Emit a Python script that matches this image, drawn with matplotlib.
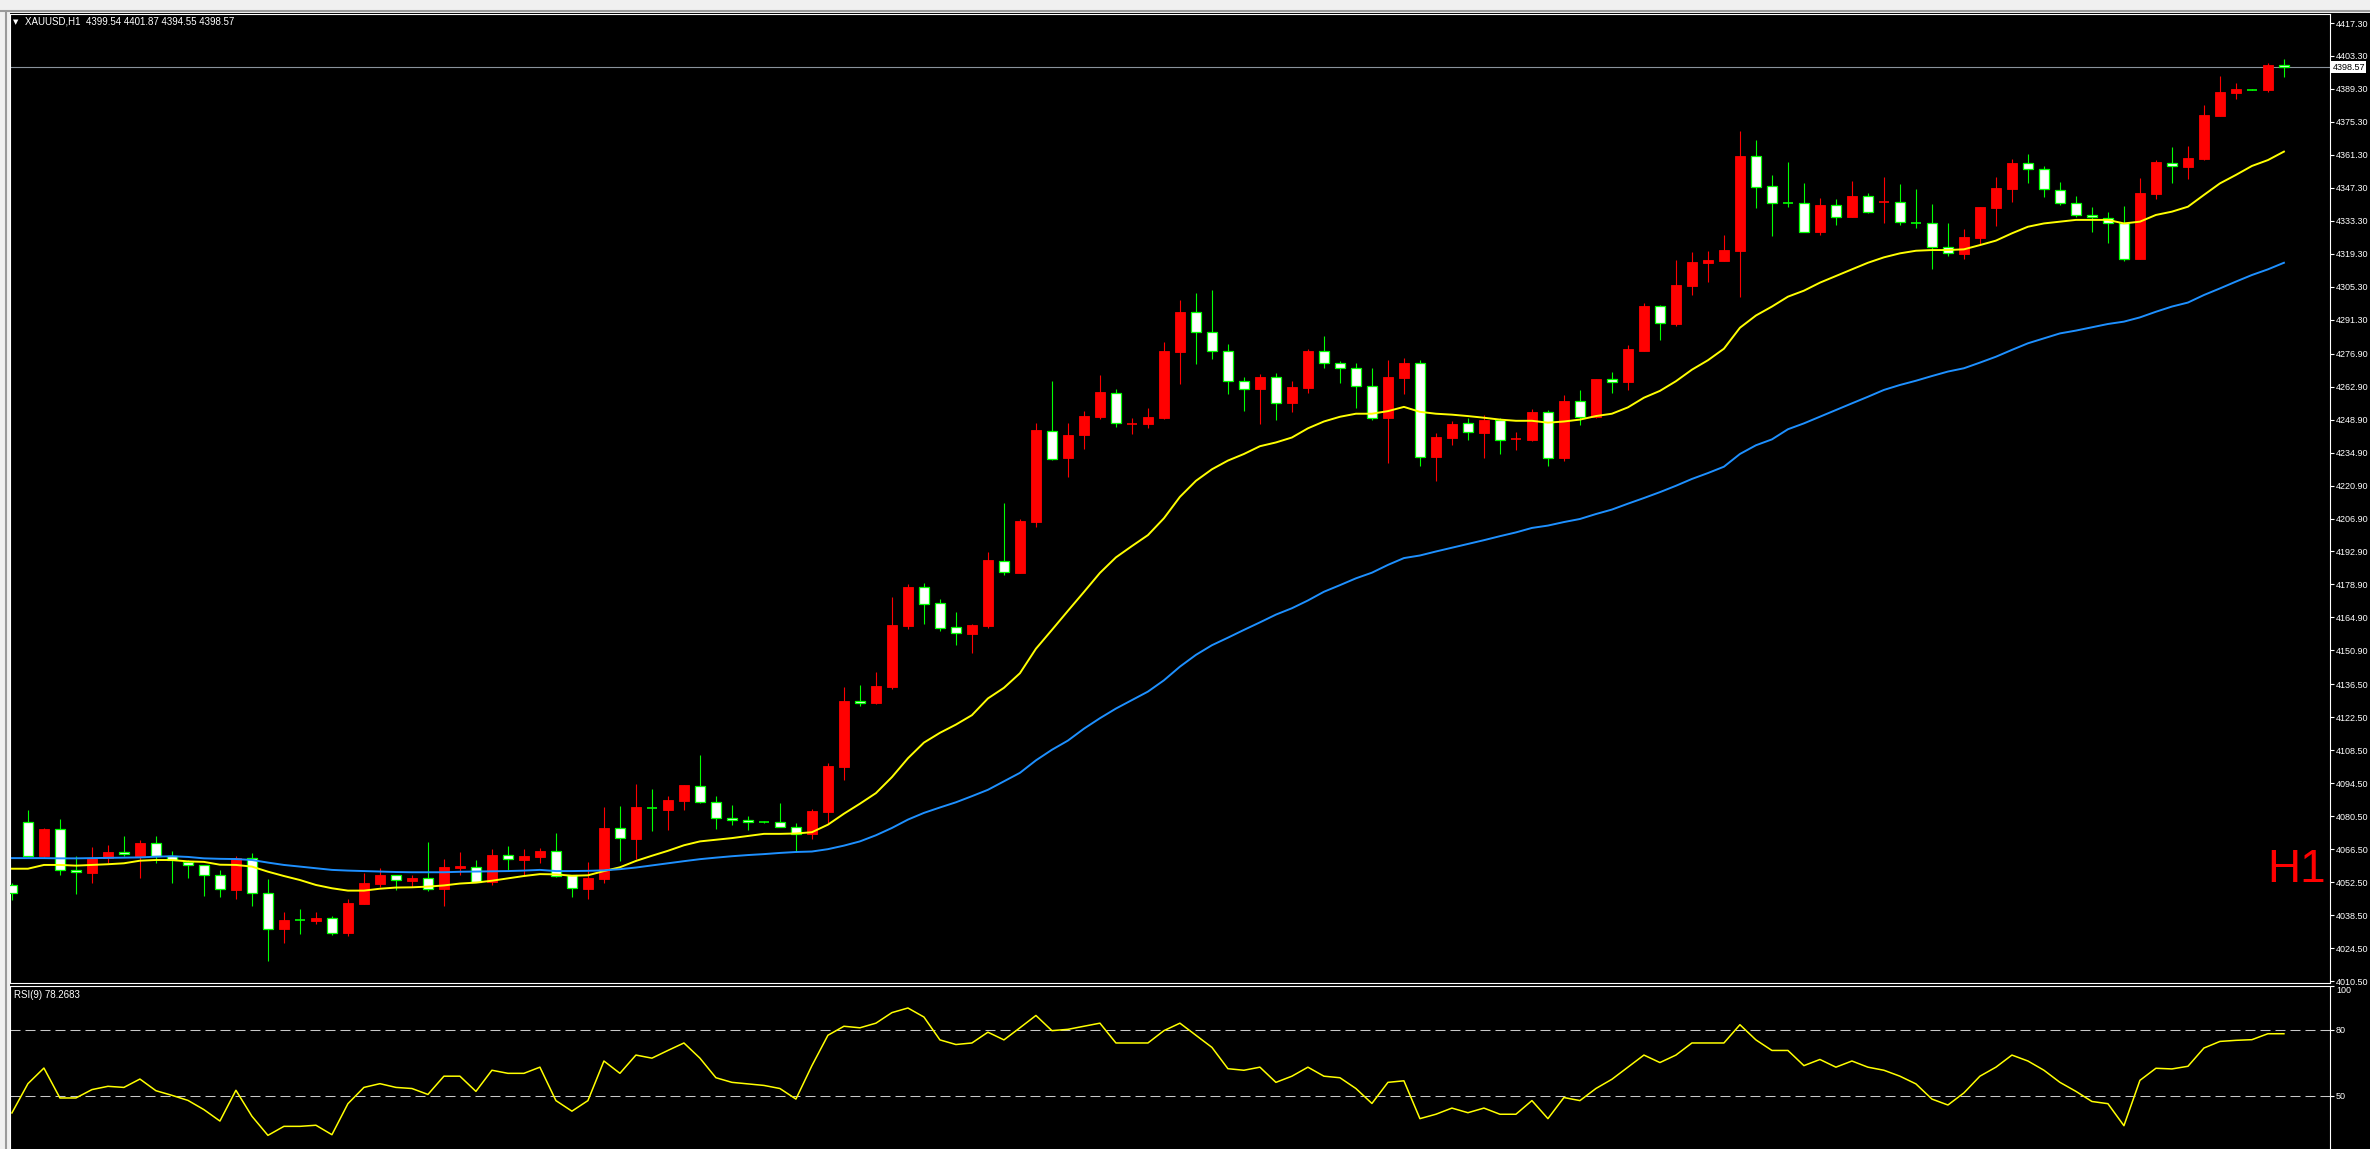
import numpy as np
import matplotlib
matplotlib.use("Agg")
import matplotlib.pyplot as plt
from matplotlib.patches import Rectangle
from matplotlib.lines import Line2D
from matplotlib.transforms import blended_transform_factory

# XAUUSD H1 candles (oldest first)
opens = [4051.3, 4077.9, 4063.7, 4074.9, 4057.6, 4056.5, 4062.6, 4065.2, 4063.7, 4069.0,
         4063.6, 4061.2, 4059.6, 4055.4, 4049.3, 4062.6, 4047.75, 4032.5, 4036.8, 4036.1,
         4037.1, 4030.8, 4043.4, 4051.9, 4055.4, 4053.1, 4054.1, 4049.4, 4058.65, 4058.8,
         4052.7, 4063.9, 4062.05, 4063.2, 4065.7, 4055.4, 4049.7, 4054.0, 4075.4, 4071.0,
         4084.2, 4083.2, 4087.1, 4093.5, 4086.4, 4079.9, 4078.9, 4078.1, 4078.0, 4075.8,
         4073.0, 4082.4, 4101.4, 4129.4, 4128.4, 4135.2, 4161.25, 4177.9, 4170.9, 4160.7,
         4157.9, 4161.25, 4188.95, 4183.8, 4205.4, 4244.2, 4232.5, 4242.2, 4250.1, 4260.4,
         4246.6, 4246.85, 4249.5, 4277.8, 4294.4, 4286.3, 4278.2, 4265.5, 4261.9, 4266.8,
         4255.8, 4262.4, 4277.85, 4272.8, 4270.7, 4263.1, 4249.75, 4266.5, 4272.8, 4233.2,
         4241.3, 4247.3, 4243.4, 4248.8, 4240.2, 4240.3, 4252.0, 4232.7, 4256.6, 4250.2,
         4266.0, 4264.7, 4278.2, 4297.2, 4289.6, 4305.8, 4315.6, 4316.4, 4320.4, 4360.7,
         4347.95, 4341.1, 4340.7, 4328.7, 4339.9, 4335.1, 4343.7, 4340.8, 4341.2, 4332.6,
         4332.2, 4322.1, 4319.4, 4326.2, 4338.9, 4346.8, 4357.7, 4355.2, 4346.3, 4340.7,
         4335.6, 4334.65, 4332.5, 4317.25, 4344.8, 4358.0, 4356.3, 4359.7, 4377.95, 4387.7,
         4389.2, 4388.9, 4399.54]
highs = [4052.3, 4083.1, 4075.5, 4079.2, 4063.6, 4067.3, 4068.3, 4072.1, 4070.4, 4072.1,
         4065.7, 4061.9, 4059.9, 4057.7, 4063.6, 4064.7, 4053.8, 4039.7, 4041.1, 4039.7,
         4038.1, 4045.3, 4056.2, 4058.5, 4055.6, 4055.4, 4069.5, 4062.3, 4065.3, 4061.9,
         4066.6, 4067.85, 4066.6, 4067.0, 4073.4, 4055.5, 4061.1, 4084.4, 4084.9, 4094.2,
         4092.1, 4089.05, 4093.8, 4106.6, 4089.05, 4085.1, 4080.5, 4078.4, 4086.2, 4077.4,
         4083.7, 4103.0, 4135.2, 4136.4, 4141.8, 4173.4, 4178.9, 4179.5, 4172.7, 4167.1,
         4161.9, 4192.7, 4213.6, 4206.6, 4247.6, 4265.1, 4247.6, 4252.6, 4267.9, 4261.9,
         4249.5, 4253.8, 4281.7, 4299.9, 4302.7, 4303.9, 4280.95, 4266.8, 4268.1, 4268.8,
         4265.35, 4279.0, 4284.4, 4273.6, 4273.1, 4270.9, 4274.1, 4275.1, 4274.1, 4243.25,
         4248.1, 4249.75, 4251.05, 4249.75, 4243.6, 4253.3, 4253.0, 4259.5, 4261.4, 4266.3,
         4269.1, 4280.6, 4298.5, 4297.5, 4316.7, 4319.9, 4320.4, 4327.4, 4371.4, 4367.7,
         4352.8, 4358.3, 4349.2, 4342.9, 4342.4, 4350.2, 4345.0, 4352.1, 4348.9, 4346.8,
         4340.5, 4332.5, 4329.9, 4339.3, 4352.1, 4359.6, 4361.7, 4356.6, 4349.8, 4343.85,
         4339.0, 4336.9, 4339.6, 4351.35, 4359.1, 4364.5, 4365.1, 4382.5, 4394.8, 4392.0,
         4389.4, 4400.5, 4401.87]
lows = [4044.9, 4063.0, 4063.0, 4055.5, 4047.5, 4052.3, 4060.8, 4063.6, 4054.4, 4060.8,
        4052.3, 4054.4, 4046.8, 4046.3, 4045.5, 4042.5, 4019.2, 4026.8, 4030.6, 4034.9,
        4030.2, 4029.8, 4043.3, 4050.6, 4049.2, 4050.6, 4048.7, 4042.5, 4055.7, 4052.5,
        4051.4, 4057.7, 4055.1, 4060.8, 4054.7, 4046.3, 4045.3, 4052.3, 4061.3, 4062.2,
        4074.2, 4074.7, 4083.2, 4086.3, 4075.1, 4076.6, 4074.8, 4077.6, 4075.7, 4065.3,
        4070.7, 4077.8, 4095.7, 4127.1, 4128.3, 4134.6, 4160.0, 4162.3, 4159.1, 4153.0,
        4149.8, 4160.4, 4183.0, 4183.7, 4203.4, 4231.7, 4224.7, 4236.5, 4249.0, 4245.9,
        4242.7, 4245.4, 4249.0, 4264.2, 4272.5, 4274.6, 4259.8, 4252.5, 4247.0, 4248.9,
        4252.2, 4260.0, 4270.9, 4264.4, 4253.8, 4248.9, 4230.6, 4259.8, 4229.4, 4222.9,
        4238.0, 4240.3, 4232.7, 4234.5, 4235.8, 4240.0, 4229.4, 4231.5, 4246.8, 4249.75,
        4260.3, 4261.6, 4278.1, 4282.6, 4288.75, 4301.75, 4307.4, 4316.3, 4300.9, 4338.8,
        4327.0, 4339.3, 4328.6, 4327.3, 4331.5, 4335.0, 4336.8, 4332.5, 4331.5, 4330.4,
        4312.9, 4318.5, 4317.25, 4323.3, 4331.25, 4341.4, 4349.5, 4343.6, 4340.0, 4335.1,
        4328.7, 4323.8, 4316.4, 4317.2, 4342.7, 4349.5, 4351.2, 4359.1, 4377.9, 4385.0,
        4388.8, 4388.2, 4394.55]
closes = [4048.0, 4063.7, 4075.1, 4057.5, 4056.7, 4062.6, 4065.3, 4064.3, 4069.1, 4063.7,
          4061.9, 4059.6, 4055.4, 4049.4, 4062.6, 4047.75, 4032.5, 4036.4, 4036.6, 4037.3,
          4030.8, 4043.5, 4052.1, 4055.5, 4053.3, 4054.3, 4049.4, 4058.8, 4059.4, 4052.7,
          4064.0, 4062.2, 4063.6, 4065.7, 4055.3, 4049.9, 4054.4, 4075.5, 4071.1, 4084.4,
          4083.9, 4087.4, 4093.7, 4086.4, 4079.9, 4078.7, 4078.0, 4077.9, 4075.8, 4073.15,
          4082.6, 4101.9, 4129.4, 4128.4, 4135.9, 4161.8, 4177.9, 4170.7, 4160.5, 4158.2,
          4161.8, 4189.1, 4184.1, 4205.9, 4244.3, 4232.2, 4242.4, 4250.4, 4260.6, 4247.4,
          4247.0, 4250.1, 4278.1, 4294.6, 4286.3, 4278.2, 4265.5, 4262.1, 4266.8, 4255.8,
          4262.75, 4278.0, 4272.8, 4270.7, 4263.1, 4249.75, 4267.0, 4273.0, 4233.2, 4241.5,
          4247.0, 4243.6, 4248.8, 4240.15, 4240.5, 4252.2, 4232.7, 4256.7, 4250.2, 4266.2,
          4264.7, 4278.8, 4297.2, 4289.9, 4306.1, 4315.9, 4316.7, 4320.9, 4360.9, 4347.7,
          4341.0, 4340.9, 4328.7, 4340.0, 4335.1, 4343.85, 4337.2, 4341.1, 4332.9, 4332.4,
          4322.1, 4319.5, 4326.3, 4339.2, 4347.25, 4357.9, 4355.2, 4346.7, 4340.7, 4335.65,
          4334.8, 4332.5, 4317.25, 4345.0, 4358.3, 4356.6, 4360.0, 4378.2, 4388.0, 4389.15,
          4389.0, 4399.5, 4398.57]

# moving averages as drawn on the chart (yellow fast, blue slow)
ma_fast = [4058.2, 4058.2, 4059.8, 4059.8, 4059.5, 4059.8, 4060.1, 4060.5, 4061.6, 4061.9,
           4061.9, 4061.3, 4061.1, 4059.9, 4059.8, 4059.1, 4056.95, 4055.1, 4053.4, 4051.3,
           4049.9, 4048.9, 4048.9, 4049.7, 4050.2, 4050.3, 4050.6, 4051.1, 4051.9, 4052.3,
           4053.1, 4054.1, 4055.1, 4055.9, 4055.8, 4055.2, 4055.4, 4057.2, 4058.8,
           4061.5, 4063.7, 4065.8, 4068.15, 4069.8, 4070.5, 4071.2, 4072.1, 4073.0, 4073.0,
           4073.15, 4073.7, 4076.9, 4081.55, 4085.8, 4090.3, 4097.1, 4105.1, 4111.75, 4115.9,
           4119.4, 4123.4, 4130.5, 4135.0, 4141.2, 4151.6, 4159.6, 4167.7, 4175.7, 4183.8,
           4190.4, 4195.2, 4199.85, 4207.0, 4216.1,
           4222.9, 4227.8, 4231.5, 4234.3, 4237.6, 4239.2, 4241.3, 4245.2, 4248.1, 4250.1,
           4251.4, 4251.4, 4252.5, 4254.3, 4252.2, 4251.4, 4251.0, 4250.4, 4249.7, 4248.9,
           4248.4, 4248.4, 4247.6, 4248.1, 4248.9, 4250.4, 4251.4, 4254.1, 4258.2, 4261.1,
           4265.2, 4270.1, 4274.1, 4279.0, 4287.9, 4293.1,
           4296.9, 4301.1, 4303.65, 4307.05, 4309.9, 4312.7, 4315.5, 4317.8, 4319.5, 4320.6,
           4320.9, 4320.9, 4321.2, 4323.0, 4324.9, 4328.0, 4330.8, 4332.2, 4332.95, 4333.7,
           4333.7, 4333.7, 4332.2, 4332.95, 4335.8, 4337.2, 4339.3, 4344.3, 4349.2, 4352.8,
           4356.6, 4359.1, 4362.7]
ma_slow = [4062.7, 4062.7, 4062.7, 4062.6, 4062.6, 4062.7, 4062.8, 4062.9, 4063.0, 4063.3,
           4063.5, 4063.2, 4062.6, 4062.4, 4062.3, 4061.9, 4060.8, 4059.8, 4059.1, 4058.4,
           4057.7, 4057.4, 4057.2, 4057.0, 4056.8, 4056.7, 4056.7, 4056.7, 4056.9, 4057.0,
           4057.1, 4057.2, 4057.4, 4057.7, 4057.2, 4057.2, 4057.3, 4057.5, 4058.0,
           4058.7, 4059.6, 4060.5, 4061.4, 4062.25, 4062.9, 4063.5, 4064.0, 4064.4, 4064.9,
           4065.3, 4065.5, 4066.5, 4068.0, 4069.8, 4072.4, 4075.5, 4079.05, 4081.9, 4084.2,
           4086.4, 4089.0, 4091.7, 4095.3, 4098.9, 4104.2, 4108.7, 4112.6, 4117.65, 4122.1,
           4126.2, 4129.8, 4133.4, 4138.2, 4144.0,
           4149.0, 4153.1, 4156.3, 4159.6, 4162.8, 4166.1, 4168.8, 4172.1, 4175.8, 4178.6,
           4181.5, 4183.9, 4187.2, 4190.1, 4191.2, 4192.9, 4194.5, 4196.1, 4197.7, 4199.4,
           4201.0, 4202.9, 4203.9, 4205.4, 4206.7, 4208.8, 4210.7, 4213.2, 4215.6, 4218.1,
           4220.8, 4223.7, 4226.2, 4228.9, 4234.3, 4238.0,
           4240.5, 4244.8, 4247.3, 4250.15, 4253.0, 4255.8, 4258.6, 4261.5, 4263.6, 4265.4,
           4267.4, 4269.3, 4270.7, 4273.1, 4275.6, 4278.5, 4281.3, 4283.4, 4285.5, 4286.7,
           4288.1, 4289.5, 4290.5, 4292.3, 4294.7, 4296.9, 4298.6, 4301.8, 4304.6, 4307.5,
           4310.3, 4312.7, 4315.5]

# RSI(9) line from the lower panel
rsi = [42.3, 55.6, 62.7, 49.1, 49.1, 52.9, 54.4, 53.9, 57.7, 52.4, 50.3, 48.0, 43.8, 38.6,
       52.6, 40.8, 32.1, 36.2, 36.2, 36.7, 32.4, 46.5, 53.9, 55.6, 53.9,
       53.4, 50.7, 59.0, 59.0, 52.1, 61.7, 60.3, 60.3, 63.1, 47.9, 43.1, 47.9, 65.9, 60.3,
       68.6, 67.2, 70.7, 74.1, 67.2, 58.3, 56.2, 55.5, 54.8, 53.4, 48.6,
       63.8, 77.6, 81.7, 81.0, 83.1, 87.9, 90.0, 85.9, 75.5, 73.4, 74.1, 79.0, 75.5, 81.0,
       86.6, 79.7, 80.3, 81.7, 83.1, 74.1, 74.1, 74.1, 79.7, 83.1, 77.6,
       72.1, 62.4, 61.7, 63.1, 56.2, 59.0, 63.1, 59.0, 58.3, 53.4, 46.6, 56.2, 56.9, 39.7,
       41.7, 44.5, 42.4, 44.5, 41.7, 41.7, 47.9, 39.7, 49.3, 47.9, 53.4,
       57.6, 63.1, 68.6, 65.2, 68.6, 74.1, 74.1, 74.1, 82.4, 75.5, 70.7, 70.7, 63.8, 66.6,
       63.1, 65.9, 63.1, 61.7, 59.0, 55.5, 48.6, 45.9, 51.4, 59.0, 63.1,
       68.6, 65.9, 61.7, 56.2, 52.1, 47.5, 46.5, 36.5, 57.1, 62.6, 62.3, 63.5, 71.8, 74.8,
       75.3, 75.6, 78.3, 78.3]

price_ticks = [4417.30, 4403.30, 4389.30, 4375.30, 4361.30, 4347.30, 4333.30, 4319.30,
               4305.30, 4291.30, 4276.90, 4262.90, 4248.90, 4234.90, 4220.90, 4206.90,
               4192.90, 4178.90, 4164.90, 4150.90, 4136.50, 4122.50, 4108.50, 4094.50,
               4080.50, 4066.50, 4052.50, 4038.50, 4024.50, 4010.50]
rsi_ticks = [50, 80, 100]
rsi_levels = [80, 50]
last_price = 4398.57
title = "XAUUSD,H1  4399.54 4401.87 4394.55 4398.57"
rsi_title = "RSI(9) 78.2683"

W, H = 2370, 1149
plt.rcParams['font.family'] = ['Liberation Sans', 'DejaVu Sans']
plt.rcParams['lines.scale_dashes'] = False

fig = plt.figure(figsize=(W / 100, H / 100), dpi=100, facecolor='#f0f0f0')


def fx(px):
    return px / W


def fy(py):
    return 1 - py / H


# black terminal window + frame bits of the MT4 window (behind the axes)
fig.patches.append(Rectangle((fx(10), 0), 1 - fx(10), fy(13), transform=fig.transFigure,
                             facecolor='black', edgecolor='none', zorder=-5))
fig.add_artist(Line2D([0, 1], [fy(11), fy(11)], color='#9a9a9a', lw=1.5, zorder=-4))
fig.add_artist(Line2D([fx(6), fx(6)], [0, fy(12)], color='#9a9a9a', lw=1.5, zorder=-4))

o = np.array(opens)
hi = np.array(highs)
lo = np.array(lows)
c = np.array(closes)
x = np.arange(len(o))
xlim = (-0.12, 144.88)
axis_font = 6.5

ax = fig.add_axes([fx(10), fy(983), fx(2330) - fx(10), (983 - 14) / H])
ax.set_facecolor('black')
ax.set_xlim(*xlim)
ax.set_ylim(4009.67, 4421.13)

up = c >= o
body = np.abs(c - o) >= 0.6
width = 0.62

ax.axhline(last_price, color='#8a929c', lw=0.8, zorder=1)

ax.vlines(x[up], lo[up], hi[up], color='#ff0000', lw=0.8, zorder=2)
ax.vlines(x[~up], lo[~up], hi[~up], color='#00ff00', lw=0.8, zorder=2)

m = up & body
ax.bar(x[m], (c - o)[m], bottom=o[m], width=width, facecolor='#ff0000',
       edgecolor='#ff0000', lw=0.6, zorder=3)
m = ~up & body
ax.bar(x[m], (o - c)[m], bottom=c[m], width=width, facecolor='white',
       edgecolor='#00ff00', lw=0.9, zorder=3)
m = up & ~body
ax.hlines(c[m], x[m] - width / 2, x[m] + width / 2, color='#ff0000', lw=1.2, zorder=3)
m = ~up & ~body
ax.hlines(c[m], x[m] - width / 2, x[m] + width / 2, color='#00ff00', lw=1.2, zorder=3)

ax.plot(x, ma_fast, color='#ffff00', lw=1.4, zorder=4)
ax.plot(x, ma_slow, color='#1e90ff', lw=1.4, zorder=4)

ax.yaxis.tick_right()
ax.set_yticks(price_ticks)
ax.set_yticklabels([f'{t:.2f}' for t in price_ticks])
ax.set_xticks([])
ax.tick_params(axis='y', colors='white', labelsize=axis_font, length=3, width=0.8, pad=1.2)
for s in ax.spines.values():
    s.set_color('white')
    s.set_linewidth(0.8)

tr = blended_transform_factory(ax.transAxes, ax.transData)
ax.text(1.001, last_price, f'{last_price:.2f}', transform=tr, ha='left', va='center',
        color='black', fontsize=axis_font, zorder=6, clip_on=False,
        bbox=dict(boxstyle='square,pad=0.15', facecolor='white', edgecolor='none'))

# RSI panel
ax2 = fig.add_axes([fx(10), 0, fx(2330) - fx(10), (1149 - 986) / H])
ax2.set_facecolor('black')
ax2.set_xlim(*xlim)
ax2.set_ylim(25.9, 100)
for lvl in rsi_levels:
    ax2.axhline(lvl, color='#c8c8c8', lw=0.75, linestyle=(0, (7.2, 3.6)), zorder=1)
ax2.plot(x, rsi, color='#ffff00', lw=1.1, zorder=3)
ax2.yaxis.tick_right()
ax2.set_yticks(rsi_ticks)
ax2.set_yticklabels([str(t) for t in rsi_ticks])
ax2.set_xticks([])
ax2.tick_params(axis='y', colors='white', labelsize=axis_font, length=3, width=0.8, pad=1.2)
for lab, t in zip(ax2.get_yticklabels(), rsi_ticks):
    if t == 100:
        lab.set_va('top')
for name, s in ax2.spines.items():
    s.set_color('white')
    s.set_linewidth(0.8)
ax2.spines['bottom'].set_visible(False)

# labels
fig.text(fx(13), fy(22), '\u25bc', color='white', fontsize=5, va='center',
         family=['DejaVu Sans'])
fig.text(fx(25), fy(22), title, color='white', fontsize=7, va='center')
fig.text(fx(14), fy(995), rsi_title, color='white', fontsize=7, va='center')
fig.text(fx(2326), fy(882), 'H1', color='#ff0000', fontsize=33, ha='right', va='baseline')

fig.savefig('out.png', dpi=100, facecolor=fig.get_facecolor())
